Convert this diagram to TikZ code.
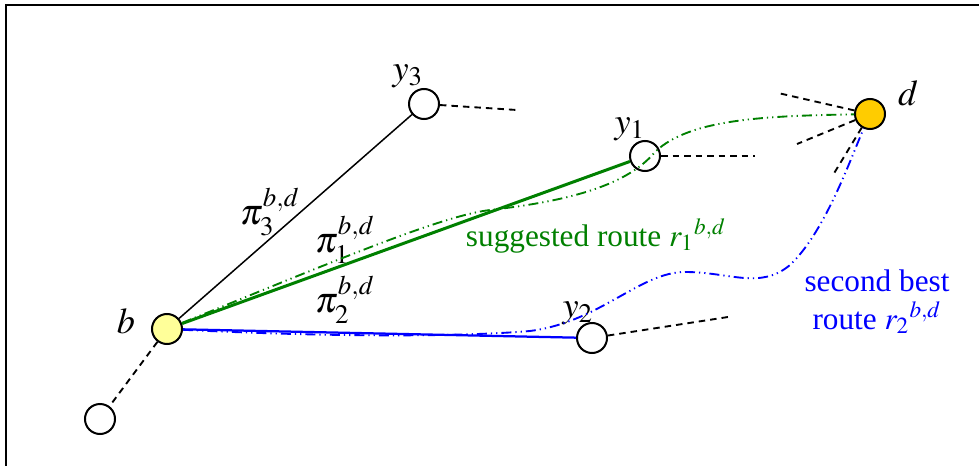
\documentclass[tikz,border=0pt]{standalone}
\usepackage{amsmath}
\usepackage{mathptmx}
\usepackage{fontspec}
\setmainfont{Liberation Serif}

\definecolor{bfill}{RGB}{255,255,153}
\definecolor{dfill}{RGB}{255,204,0}
\definecolor{routegreen}{RGB}{0,128,0}

\begin{document}
\begin{tikzpicture}[
    x=0.4pt, y=-0.4pt,
    vertex/.style={draw, circle, line width=0.8pt, minimum size=12pt, inner sep=0pt, fill=white},
    lbl/.style={inner sep=0pt, font=\fontsize{12.5}{15}\selectfont},
    mlbl/.style={inner sep=0pt, font=\fontsize{14.5}{17}\selectfont},
    stub/.style={line width=0.75pt, dash pattern=on 2.6pt off 2pt},
    route/.style={line width=0.75pt, dash pattern=on 4pt off 1.6pt on 0.5pt off 1.6pt on 0.5pt off 1.6pt}
]
\useasboundingbox (0,0) rectangle (979,466);
\draw[line width=0.9pt] (979,5) -- (6,5) -- (6,466);

\node[vertex, fill=bfill] (b) at (167,329) {};
\node[vertex] (y3) at (424,104) {};
\node[vertex] (y1) at (645,156) {};
\node[vertex] (y2) at (592,338) {};
\node[vertex, fill=dfill] (d) at (870,114) {};
\node[vertex] (w) at (100,419) {};

\coordinate (y3end) at (517,110);
\coordinate (y1end) at (755,156);
\coordinate (y2end) at (728,317);
\coordinate (din1) at (778,93);
\coordinate (din2) at (797,144);
\coordinate (din3) at (833,175);

\node[mlbl] (blbl) at (126,321) {$b$};
\node[mlbl] (y3lbl) at (408,76) {$y_3$};
\node[mlbl] (y1lbl) at (630,129) {$y_1$};
\node[mlbl] (y2lbl) at (578,313) {$y_2$};
\node[mlbl] (dlbl) at (908,93) {$d$};
\node[mlbl] (pi3) at (270,212) {$\pi_3^{b,d}$};
\node[mlbl] (pi1) at (345,240) {$\pi_1^{b,d}$};
\node[mlbl] (pi2) at (345,300) {$\pi_2^{b,d}$};
\node[lbl, text=routegreen] (sugg) at (596,236) {suggested route $r_1{}^{b,d}$};
\node[lbl, text=blue, align=center] (second) at (877,302) {second best\\route $r_2{}^{b,d}$};

\draw[stub] (b) -- (w);
\draw[stub] (y3) -- (y3end);
\draw[stub] (y1) -- (y1end);
\draw[stub] (y2) -- (y2end);
\draw[stub] (d) -- (din1);
\draw[stub] (d) -- (din2);
\draw[stub] (d) -- (din3);

\draw[line width=0.6pt] (b) -- (y3);
\draw[line width=1.2pt, routegreen] (b) -- (y1);
\draw[line width=0.9pt, blue] (b) -- (y2);

\draw[route, routegreen] (b) .. controls (330,263) and (440,216) .. (490,210)
    .. controls (560,202) and (625,188) .. (655,152)
    .. controls (690,118) and (770,116) .. (d);
\draw[route, blue] (b) .. controls (330,337) and (460,337) .. (530,331)
    .. controls (600,322) and (640,272) .. (685,272)
    .. controls (730,272) and (760,290) .. (790,265)
    .. controls (825,232) and (850,160) .. (d);
\end{tikzpicture}
\end{document}
